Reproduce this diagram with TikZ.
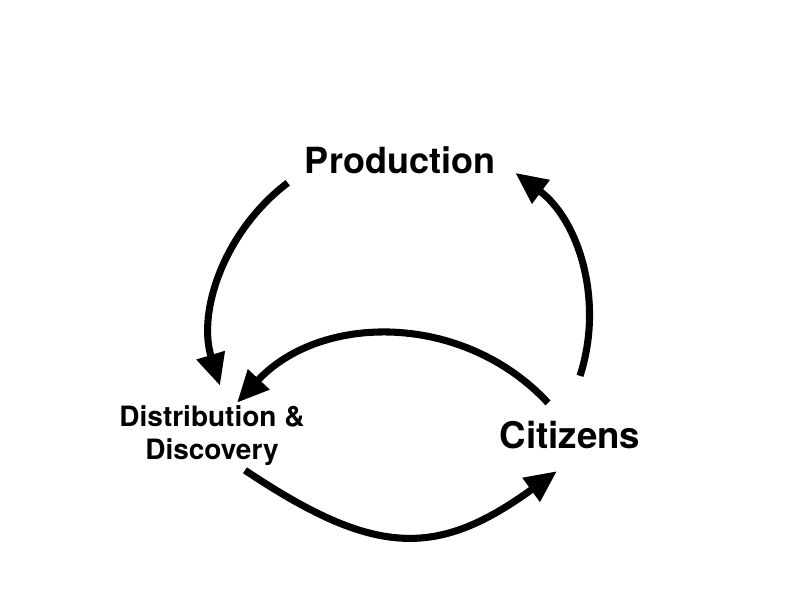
\documentclass[tikz,border=0pt]{standalone}
\usepackage{fontspec}
\setmainfont{TeX Gyre Heros}
\usetikzlibrary{arrows.meta}
\usetikzlibrary{positioning}

\begin{document}
\begin{tikzpicture}[x=0.75pt,y=-0.75pt,flow/.style={line width=5.3pt,-{Triangle[length=24pt,width=21pt]}},lbl/.style={inner sep=0pt,font=\bfseries}]
				\useasboundingbox (0,0) rectangle (800,600);
				\node (prod) [lbl,font=\bfseries\fontsize{27}{32}\selectfont] at (400,160) {Production}; \node (cit) [lbl,font=\bfseries\fontsize{27.5}{32}\selectfont] at (570,435) {Citizens};
				\node (dist) [lbl,align=center,font=\bfseries\fontsize{21}{24.75}\selectfont] at (212,436) {Distribution \&\\Discovery};
				\draw [flow] ([shift={(-17,9)}]prod.south west) .. controls +(-62.6,47.4) and +(-23,-75.2) .. ([shift={(8,-20)}]dist.north);
				\draw [flow] ([shift={(10,-45)}]cit.north) .. controls +(24.4,-75.1) and +(63.4,47.1) .. ([shift={(20,-1)}]prod.south east);
				\draw [flow] ([shift={(-22,-18)}]cit.north) .. controls +(-84,-90.5) and +(84.2,-90.3) .. ([shift={(25,-3)}]dist.north);
				\draw [flow] ([shift={(33,4)}]dist.south) .. controls +(130,87) and +(-120,87) .. ([shift={(-13,22)}]cit.south);
			\end{tikzpicture}
\end{document}
